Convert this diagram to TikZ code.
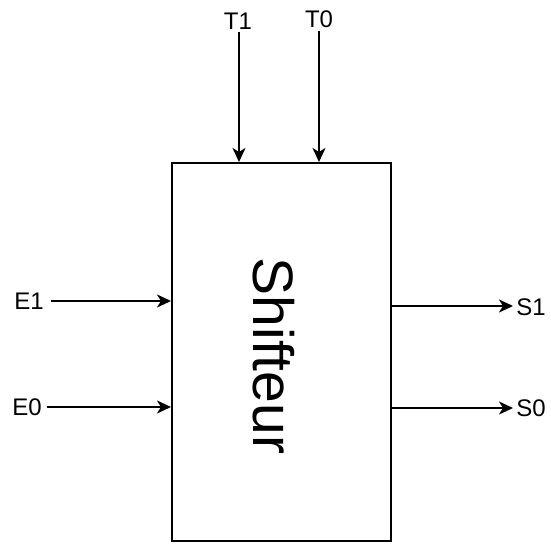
\documentclass[tikz,border=0pt]{standalone}
\usepackage{fontspec}
\setmainfont{Liberation Sans}
\usetikzlibrary{arrows.meta}
\begin{document}
\begin{tikzpicture}[x=1pt,y=-1pt,
  lbl/.style={inner sep=0pt,font=\fontsize{24}{27}\selectfont},
  conn/.style={line width=2pt,-{Stealth[length=14pt,width=13pt,inset=4pt]}},
  blockbox/.style={draw,line width=2pt,minimum width=219pt,minimum height=378pt,inner sep=0pt}]
\useasboundingbox (0,0) rectangle (551,543);
\node[blockbox] (box) at (281.5,352) {};
\node[rotate=-90,inner sep=0pt,font=\fontsize{57}{62}\selectfont] (title) at (274,356) {Shifteur};
\node[lbl] (t1) at (238,21) {T1};
\node[lbl] (t0) at (319,19) {T0};
\node[lbl] (e1) at (29,301) {E1};
\node[lbl] (e0) at (27,407) {E0};
\node[lbl] (s1) at (531,307) {S1};
\node[lbl] (s0) at (531,408) {S0};
\coordinate (t1a) at (239,32);
\coordinate (t0a) at (319,31);
\coordinate (e1a) at (51,301);
\coordinate (e0a) at (47,407);
\coordinate (s1a) at (513,306);
\coordinate (s0a) at (513,408);
\draw[conn] (t1a) -- (t1a |- box.north);
\draw[conn] (t0a) -- (t0a |- box.north);
\draw[conn] (e1a) -- (e1a -| box.west);
\draw[conn] (e0a) -- (e0a -| box.west);
\draw[conn] (s1a -| box.east) -- (s1a);
\draw[conn] (s0a -| box.east) -- (s0a);
\end{tikzpicture}
\end{document}
